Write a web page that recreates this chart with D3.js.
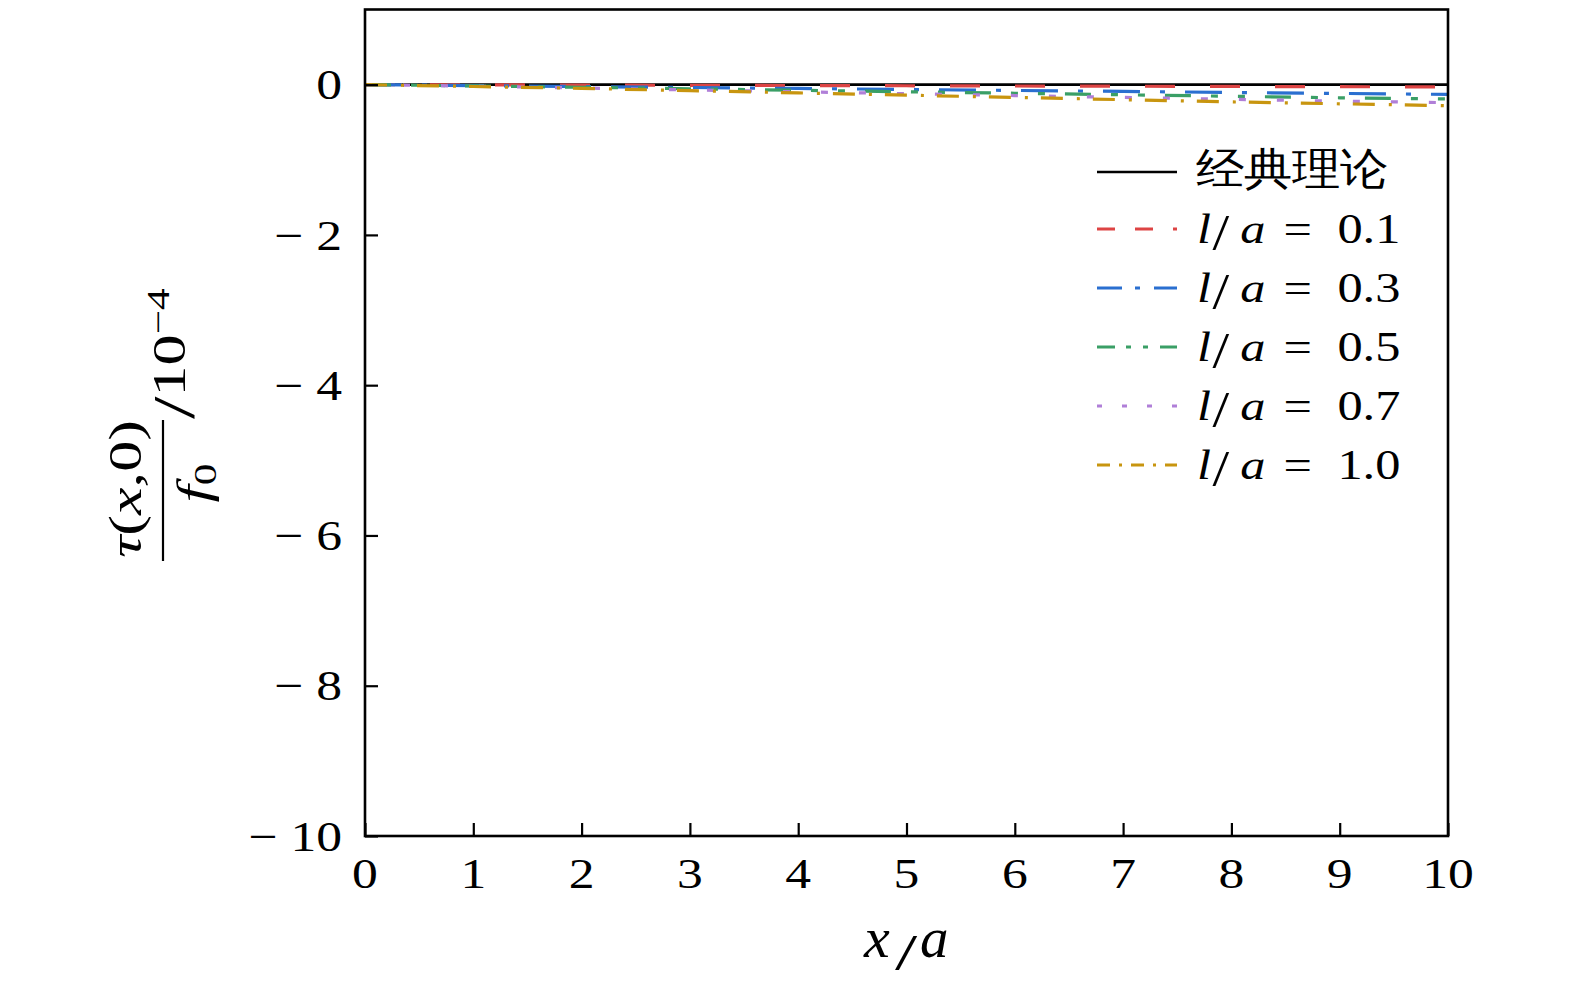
<!DOCTYPE html>
<html>
<head>
<meta charset="utf-8">
<script src="https://cdn.jsdelivr.net/npm/d3@7"></script>
<style>
  html, body { margin: 0; padding: 0; background: #fff; }
  svg { display: block; }
  text { font-family: "Liberation Serif", "Times New Roman", serif; fill: #000; }
</style>
</head>
<body>
<svg id="chart" width="1575" height="984"></svg>
<script>
// ---- data ----
const xValues = [0, 1, 2, 3, 4, 5, 6, 7, 8, 9, 10];
const classical = [0, 0, 0, 0, 0, 0, 0, 0, 0, 0, 0];
const la01 = [0, -0.003, -0.006, -0.009, -0.012, -0.015, -0.018, -0.021, -0.024, -0.027, -0.03];
const la03 = [0, -0.012, -0.025, -0.038, -0.051, -0.064, -0.077, -0.09, -0.104, -0.117, -0.13];
const la05 = [0, -0.017, -0.035, -0.055, -0.075, -0.095, -0.115, -0.135, -0.155, -0.175, -0.19];
const la07 = [0, -0.02, -0.045, -0.07, -0.095, -0.12, -0.145, -0.17, -0.195, -0.22, -0.24];
const la10 = [0, -0.025, -0.05, -0.08, -0.11, -0.14, -0.17, -0.2, -0.23, -0.255, -0.28];
const seriesNames = ["经典理论", "0.1", "0.3", "0.5", "0.7", "1.0"];
const xTicks = [0, 1, 2, 3, 4, 5, 6, 7, 8, 9, 10];
const yTicks = [0, -2, -4, -6, -8, -10];

// ---- styles ----
const colors = ["#000000", "#dd4444", "#2a6fd0", "#3a9f66", "#b07fd8", "#c8950f"];
const plotDash = [null, "30,35", "37,20,5,20", "26,20,7,20,7,20", "7,31", "22,14,3,13"];
const legendDash = [null, "18,20", "25,13,5,14", "18,11,5,12,5,12", "5,20", "13,9,3,9"];
const seriesData = [classical, la01, la03, la05, la07, la10];

const svg = d3.select("#chart");
const pLeft = 365, pRight = 1448, pTop = 9.5, pBottom = 836;
const SX = 1.2; // horizontal stretch of the math font

const x = d3.scaleLinear().domain([0, 10]).range([pLeft, pRight]);
const y = d3.scaleLinear().domain([-10, 1]).range([pBottom, pTop]);

svg.append("defs").append("clipPath").attr("id", "clip")
  .append("rect").attr("x", pLeft).attr("y", pTop).attr("width", pRight - pLeft).attr("height", pBottom - pTop);

const line = d3.line().x((d, i) => x(xValues[i])).y(d => y(d));

const lines = svg.append("g").attr("clip-path", "url(#clip)");
seriesData.forEach((s, k) => {
  lines.append("path")
    .datum(s)
    .attr("d", line)
    .attr("fill", "none")
    .attr("stroke", colors[k])
    .attr("stroke-width", k === 0 ? 2.6 : 3.2)
    .attr("stroke-dasharray", plotDash[k]);
});

// frame
svg.append("rect")
  .attr("x", pLeft).attr("y", pTop).attr("width", pRight - pLeft).attr("height", pBottom - pTop)
  .attr("fill", "none").attr("stroke", "#000").attr("stroke-width", 2.6);

// ticks (inward)
const xAxis = d3.axisBottom(x).tickValues(xTicks).tickSize(-13).tickPadding(0).tickFormat("");
const gx = svg.append("g").attr("transform", `translate(0,${pBottom})`).call(xAxis);
gx.select(".domain").remove();
gx.selectAll("line").attr("stroke", "#000").attr("stroke-width", 2.2);

const yAxis = d3.axisLeft(y).tickValues(yTicks).tickSize(-13).tickFormat("");
const gy = svg.append("g").attr("transform", `translate(${pLeft},0)`).call(yAxis);
gy.select(".domain").remove();
gy.selectAll("line").attr("stroke", "#000").attr("stroke-width", 2.2);

// tick labels
svg.append("g").selectAll("text").data(xTicks).join("text")
  .attr("transform", d => `translate(${x(d)},888) scale(${SX},1)`)
  .attr("text-anchor", "middle").attr("font-size", 43)
  .text(d => d);

svg.append("g").selectAll("text").data(yTicks).join("text")
  .attr("transform", d => `translate(342,${y(d)}) scale(${SX},1)`)
  .attr("dy", "0.34em")
  .attr("text-anchor", "end").attr("font-size", 43)
  .text(d => d < 0 ? "\u2212 " + Math.abs(d) : d);

// x-axis label  x/a
const xl = svg.append("g");
xl.append("text").attr("x", 864).attr("y", 957).attr("font-size", 58).attr("font-style", "italic").text("x");
xl.append("text").attr("transform", "translate(895,969) scale(1.6,1)").attr("font-size", 50).text("/");
xl.append("text").attr("x", 920).attr("y", 957).attr("font-size", 57).attr("font-style", "italic").text("a");

// y-axis label (rotated fraction)
const YS = 1.35;
const yl = svg.append("g").attr("transform", "translate(163,491) rotate(-90)");
yl.append("line").attr("x1", -70).attr("x2", 71).attr("y1", 0).attr("y2", 0)
  .attr("stroke", "#000").attr("stroke-width", 2.2);
const num = yl.append("text").attr("transform", `translate(2,-22) scale(${YS},1)`)
  .attr("text-anchor", "middle").attr("font-size", 46);
num.append("tspan").attr("font-style", "italic").text("τ");
num.append("tspan").text("(");
num.append("tspan").attr("font-style", "italic").text("x");
num.append("tspan").text(",0)");
const den = yl.append("text").attr("transform", `translate(8,46) scale(${YS},1)`)
  .attr("text-anchor", "middle").attr("font-size", 46);
den.append("tspan").attr("font-style", "italic").text("f");
den.append("tspan").attr("font-size", 32).attr("dy", 7).text("0");
const unit = yl.append("text").attr("transform", `translate(72,22) scale(${YS},1)`).attr("font-size", 46);
unit.append("tspan").attr("font-size", 60).attr("dy", 9).text("/");
unit.append("tspan").attr("dy", -9).text("10");
unit.append("tspan").attr("font-size", 32).attr("dy", -16).text("\u22124");

// legend
const legX1 = 1097, legX2 = 1177, legTextX = 1197;
const legY = [172, 229, 288, 347, 406, 465];
seriesNames.forEach((name, k) => {
  svg.append("line")
    .attr("x1", legX1).attr("x2", legX2).attr("y1", legY[k]).attr("y2", legY[k])
    .attr("stroke", colors[k]).attr("stroke-width", k === 0 ? 2.6 : 3.2)
    .attr("stroke-dasharray", legendDash[k]);
  if (k === 0) {
    svg.append("text").attr("transform", `translate(${legTextX - 1},${legY[k] + 12}) scale(1.1,1)`)
      .attr("font-family", "'Noto Sans CJK SC', sans-serif").attr("font-weight", 300)
      .attr("font-size", 44).text(name);
  } else {
    const t = svg.append("text")
      .attr("transform", `translate(${legTextX},${legY[k] + 14}) scale(${SX},1)`)
      .attr("font-size", 42);
    t.append("tspan").attr("x", 0).attr("font-style", "italic").text("l");
    t.append("tspan").attr("x", 13).attr("dy", 6).attr("font-size", 50).text("/");
    t.append("tspan").attr("x", 36).attr("dy", -6).attr("font-style", "italic").text("a");
    t.append("tspan").attr("x", 72).text("=");
    t.append("tspan").attr("x", 117).text(name);
  }
});
</script>
</body>
</html>
